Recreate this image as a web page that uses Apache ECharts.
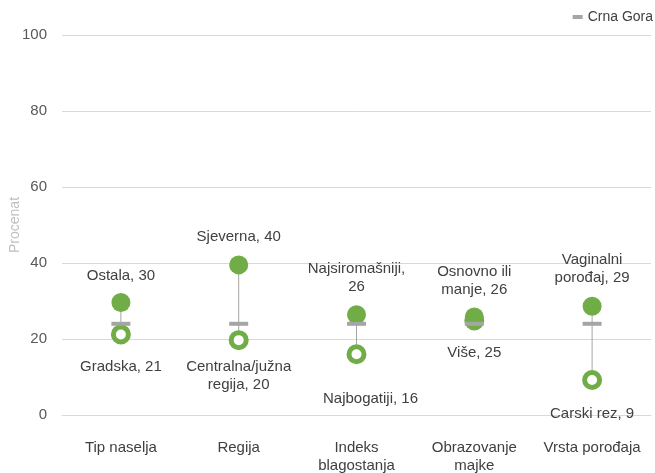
<!DOCTYPE html>
<html>
<head>
<meta charset="utf-8">
<script src="https://cdn.jsdelivr.net/npm/echarts@6/dist/echarts.min.js"></script>
<style>
html,body{margin:0;padding:0;background:#fff;}
#chart{width:655px;height:473px;}
</style>
</head>
<body>
<div id="chart"></div>
<script>
// ---- data ----
const categories = ['Tip naselja', 'Regija', 'Indeks\nblagostanja', 'Obrazovanje\nmajke', 'Vrsta porođaja'];
const highValues = [29.6, 39.5, 26.4, 25.8, 28.6];
const highNames = ['Ostala, 30', 'Sjeverna, 40', 'Najsiromašniji,\n26', 'Osnovno ili\nmanje, 26', 'Vaginalni\nporođaj, 29'];
const lowValues = [21.2, 19.7, 16.0, 24.9, 9.2];
const lowNames = ['Gradska, 21', 'Centralna/južna\nregija, 20', 'Najbogatiji, 16', 'Više, 25', 'Carski rez, 9'];
const nationalValues = [24, 24, 24, 24, 24];
const nationalName = 'Crna Gora';
const yTicks = { min: 0, max: 100, interval: 20 };

// ---- layout (label placement, not data) ----
const highLabelDist = [8.5, 10, 9.5, 8.5, 10];
const lowLabelDist = [13.5, 7.5, 25.5, 13.5, 15];
const lowLabelShiftX = [0, 0, 14, 0, 0];

const GREEN = '#70AD47';
const GREY = '#A5A5A5';
const TXT = '#404040';
const FONT = '"Liberation Sans", Arial, sans-serif';

const chart = echarts.init(document.getElementById('chart'), null, { renderer: 'canvas' });

const option = {
  animation: false,
  textStyle: { fontFamily: FONT },
  grid: { left: 62, right: 4, top: 35, bottom: 58, containLabel: false, outerBoundsMode: 'none' },
  legend: {
    data: [{ name: nationalName, icon: 'rect' }],
    right: 2, top: 10, padding: 0,
    itemWidth: 10, itemHeight: 4, itemGap: 5,
    textStyle: { color: TXT, fontSize: 14, fontFamily: FONT },
    selectedMode: false
  },
  xAxis: {
    type: 'category',
    data: categories,
    axisLine: { show: true, lineStyle: { color: '#D9D9D9', width: 1 } },
    axisTick: { show: false },
    axisLabel: { color: TXT, fontSize: 15, lineHeight: 18, margin: 24, interval: 0, fontFamily: FONT }
  },
  yAxis: {
    type: 'value',
    min: yTicks.min, max: yTicks.max, interval: yTicks.interval,
    name: 'Procenat',
    nameLocation: 'middle',
    nameGap: 40,
    nameMoveOverlap: false,
    nameTextStyle: { color: '#BFBFBF', fontSize: 14, fontFamily: FONT },
    axisLine: { show: false },
    axisTick: { show: false },
    axisLabel: { color: '#595959', fontSize: 15, margin: 15, fontFamily: FONT },
    splitLine: { lineStyle: { color: '#D9D9D9', width: 1 } }
  },
  series: [
    {
      type: 'custom',
      name: 'range',
      silent: true,
      data: categories.map((c, i) => [i, highValues[i], lowValues[i]]),
      renderItem: function (params, api) {
        const p1 = api.coord([api.value(0), api.value(1)]);
        const p2 = api.coord([api.value(0), api.value(2)]);
        return {
          type: 'line',
          shape: { x1: p1[0], y1: p1[1], x2: p2[0], y2: p2[1] },
          style: { stroke: GREY, lineWidth: 1 }
        };
      },
      z: 1
    },
    {
      type: 'scatter',
      name: 'low',
      symbol: 'circle',
      symbolSize: 15,
      itemStyle: { color: '#fff', borderColor: GREEN, borderWidth: 5, opacity: 1 },
      data: lowValues.map((v, i) => ({
        value: [i, v],
        label: {
          show: true, position: 'bottom', distance: lowLabelDist[i], offset: [lowLabelShiftX[i], 0],
          formatter: lowNames[i], color: TXT, fontSize: 15, lineHeight: 18, align: 'center', fontFamily: FONT
        }
      })),
      z: 2
    },
    {
      type: 'scatter',
      name: 'high',
      symbol: 'circle',
      symbolSize: 19,
      itemStyle: { color: GREEN, opacity: 1 },
      data: highValues.map((v, i) => ({
        value: [i, v],
        label: {
          show: true, position: 'top', distance: highLabelDist[i],
          formatter: highNames[i], color: TXT, fontSize: 15, lineHeight: 18, align: 'center', fontFamily: FONT
        }
      })),
      z: 3
    },
    {
      type: 'scatter',
      name: nationalName,
      symbol: 'rect',
      symbolSize: [19, 4],
      itemStyle: { color: GREY, opacity: 1 },
      data: nationalValues.map((v, i) => [i, v]),
      z: 4
    }
  ]
};

chart.setOption(option);
</script>
</body>
</html>
